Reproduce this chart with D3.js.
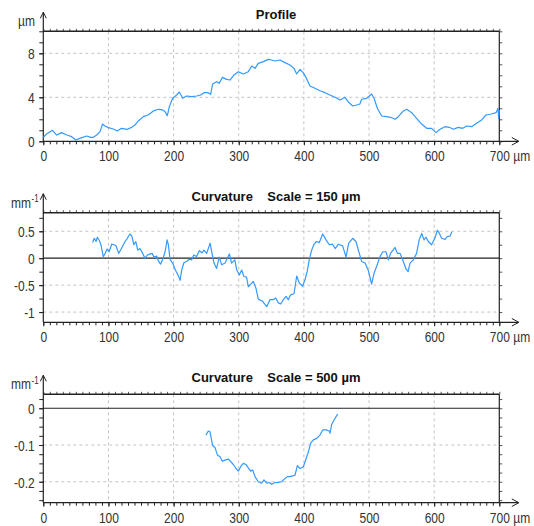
<!DOCTYPE html>
<html>
<head>
<meta charset="utf-8">
<script src="https://cdn.jsdelivr.net/npm/d3@7/dist/d3.min.js"></script>
<style>
  html, body { margin: 0; padding: 0; background: #fff; }
  svg { display: block; }
  .tick-label { font-family: "Liberation Sans", Arial, sans-serif; font-size: 15px; fill: #333; }
  .title { font-family: "Liberation Sans", Arial, sans-serif; font-size: 13px; font-weight: bold; fill: #111; white-space: pre; }
</style>
</head>
<body>
<div id="chart"></div>
<script>
// ---------- Data ----------
const xTickValues = [0, 100, 200, 300, 400, 500, 600, 700];

// Profile (µm)
const profileX = [0, 5, 14, 20.5, 28, 36, 43.5, 50, 56, 66.5, 72.7, 76.8, 82, 87, 91, 94.7, 100, 107.5, 113.6, 120,
  129, 135.6, 140.7, 145.8, 153.5, 161, 169, 176.5, 183, 186.8, 190.4, 193.5, 198.6, 204.7, 208.8, 214, 220, 227.7,
  235.4, 241.5, 246.7, 253, 256.9, 260, 266, 270, 275, 281.5, 286.6, 292.7, 299.4, 307, 314.7, 320, 325, 330, 337.8,
  345.5, 350.5, 355.7, 363.4, 371, 378.7, 384.8, 389, 394, 399, 404, 409.4, 417, 424.8, 432.4, 440, 447.8, 455.5,
  463, 468, 475, 481, 486, 488.7, 496.4, 504, 507.7, 512.8, 519.4, 527, 533, 540, 545, 551.7, 558, 565.5, 573,
  580.8, 588.5, 596, 603, 609, 616.7, 623, 629.5, 637, 643.8, 650, 657.6, 665, 673, 679.6, 688, 695, 698, 699, 700];
const profileY = [0.36, 0.66, 1.0, 0.57, 0.79, 0.57, 0.42, 0.12, 0.27, 0.48, 0.36, 0.36, 0.57, 0.88, 1.57, 1.39, 1.24, 1.12, 0.94, 1.18,
  1.09, 1.27, 1.48, 1.85, 2.24, 2.39, 2.76, 2.91, 2.85, 2.70, 2.33, 3.15, 3.91, 4.21, 4.48, 3.91, 4.12, 4.06,
  4.12, 4.21, 4.42, 4.42, 4.27, 5.21, 5.42, 5.27, 5.81, 5.63, 5.57, 6.03, 6.33, 6.12, 6.33, 6.85, 6.63, 7.09, 7.24,
  7.45, 7.39, 7.30, 7.39, 7.15, 6.94, 6.63, 6.12, 6.54, 6.24, 5.72, 5.03, 4.82, 4.60, 4.42, 4.21, 4.00, 3.75,
  4.00, 3.60, 3.21, 3.30, 3.39, 3.82, 3.91, 4.30, 3.91, 3.00, 2.30, 2.24, 2.18, 2.00, 2.24, 2.70, 2.91, 2.60, 2.09,
  1.57, 1.18, 1.18, 0.79, 1.09, 1.33, 1.27, 1.09, 1.27, 1.18, 1.39, 1.33, 1.63, 1.94, 2.39, 2.48, 2.60, 3.00, 2.09, 2.85];
const profileYTicks = [0, 4, 8];

// Curvature, scale 150 µm (mm-1)
const curv150X = [75.7, 78.3, 81, 83, 86, 88.5, 92, 95, 98, 101, 105, 108.5, 111.6, 115.7, 120, 125.4, 129, 133, 136,
  139, 142, 145, 148.4, 152.5, 156, 160, 164, 167, 170, 174, 177, 180, 183, 187, 190, 192, 194.5, 198.6, 202.7,
  206.8, 210, 212.4, 216, 220, 224, 227.7, 231, 235.4, 239.5, 243.6, 246.7, 250.8, 256, 259.5, 262, 266, 270,
  273.8, 279, 285.6, 289, 294, 297, 301, 304.5, 308, 312, 314.7, 318, 322.4, 326.5, 330, 336.7, 343, 348, 353,
  357, 360.8, 364.4, 368.5, 372.6, 376, 379.7, 384.8, 389, 393, 398, 401.7, 405, 408.4, 412, 415.6, 419.6, 423.7,
  428.9, 434, 439, 444, 448, 453, 459.6, 464.7, 468.8, 475, 480, 483.6, 488.7, 493.9, 499, 504, 507.7, 511.8,
  516.9, 521, 526, 529.7, 533, 540, 543.5, 547.6, 552.7, 556.8, 560, 563, 568, 573, 577, 580.9, 584.4, 587.5,
  591, 596, 601, 605, 608, 611.6, 616.7, 620, 624.4, 627];
const curv150Y = [0.29, 0.37, 0.31, 0.39, 0.33, 0.25, 0.03, 0.09, 0.17, 0.12, 0.26, 0.25, 0.23, 0.09, 0.18, 0.31, 0.37, 0.45, 0.41,
  0.25, 0.31, 0.15, 0.18, 0.09, 0.0, 0.06, 0.08, 0.09, 0.02, 0.04, -0.06, -0.11, -0.03, 0.12, 0.34, 0.25, -0.02, -0.09, -0.22,
  -0.31, -0.41, -0.22, -0.08, -0.06, -0.02, -0.03, 0.06, 0.03, 0.14, 0.10, 0.15, 0.09, 0.28, 0.06, -0.09, -0.19, 0.02,
  -0.12, -0.09, 0.08, -0.09, -0.03, -0.22, -0.31, -0.22, -0.34, -0.35, -0.53, -0.49, -0.43, -0.56, -0.76, -0.80, -0.90, -0.77, -0.77,
  -0.74, -0.83, -0.85, -0.77, -0.71, -0.77, -0.68, -0.66, -0.33, -0.46, -0.52, -0.40, -0.25, -0.02, 0.15, 0.26, 0.31, 0.29,
  0.45, 0.34, 0.25, 0.26, 0.18, 0.26, 0.23, 0.02, 0.28, 0.37, 0.31, 0.15, -0.06, -0.09, -0.23, -0.48, -0.28, -0.15,
  0.03, 0.12, 0.12, -0.03, 0.09, 0.20, 0.09, 0.09, -0.06, -0.20, -0.25, -0.09, -0.03, 0.09, 0.34, 0.46, 0.34, 0.39,
  0.31, 0.25, 0.37, 0.52, 0.46, 0.37, 0.35, 0.40, 0.41, 0.49];
const curv150YTicks = [-1, -0.5, 0, 0.5];

// Curvature, scale 500 µm (mm-1)
const curv500X = [249.8, 253.3, 255.9, 260, 263.6, 267.2, 271.3, 274.8, 279, 284, 287.6, 291.7, 295.8, 299.4, 303, 307,
  311, 314.8, 318.3, 321.4, 325, 330, 335.2, 338.8, 342.9, 347, 350.6, 355.7, 360.8, 366, 371, 374.6, 378.7, 382.8,
  386.4, 390, 394, 399.2, 403.3, 407, 410.5, 414.6, 419.7, 424.8, 428.9, 434, 439.1, 440.1, 442.7, 446.3, 450.4, 452];
const curv500Y = [-0.073, -0.062, -0.064, -0.102, -0.107, -0.127, -0.132, -0.144, -0.141, -0.138, -0.145, -0.153, -0.164, -0.171, -0.159, -0.150,
  -0.153, -0.162, -0.171, -0.168, -0.186, -0.200, -0.204, -0.195, -0.204, -0.202, -0.207, -0.202, -0.202, -0.200, -0.191, -0.186, -0.186, -0.184,
  -0.182, -0.156, -0.164, -0.159, -0.138, -0.118, -0.095, -0.086, -0.082, -0.073, -0.059, -0.059, -0.062, -0.068, -0.044, -0.032, -0.020, -0.016];
const curv500YTicks = [-0.2, -0.1, 0];

// ---------- Layout ----------
const W = 534, H = 526;
const plotLeft = 43.3, plotRight = 499.3;
const lineColor = "#3399ff";
const axisColor = "#222";
const gridColor = "#c4c4c4";
const squeeze = 0.8; // the reference labels use a narrow face
const xLabelOffset = 19.8;

const panels = [
  { title: "Profile", unit: "µm", sup: null, xs: profileX, ys: profileY, yTicks: profileYTicks,
    domain: [0, 10], top: 31.3, bottom: 141.3, minor: 1, zero: false },
  { title: "Curvature    Scale = 150 µm", unit: "mm", sup: "-1", xs: curv150X, ys: curv150Y, yTicks: curv150YTicks,
    domain: [-1.19, 0.845], top: 212.7, bottom: 322.3, minor: 0.25, zero: true },
  { title: "Curvature    Scale = 500 µm", unit: "mm", sup: "-1", xs: curv500X, ys: curv500Y, yTicks: curv500YTicks,
    domain: [-0.257, 0.038], top: 394.3, bottom: 502.7, minor: 0.025, zero: true }
];

const svg = d3.select("#chart").append("svg")
  .attr("width", W)
  .attr("height", H);

const x = d3.scaleLinear().domain([0, 700]).range([plotLeft, plotRight]);
const xMinor = d3.range(0, 71).map(k => k * 10);

function minorValues(domain, step) {
  const out = [];
  for (let k = Math.ceil(domain[0] / step - 1e-9); k <= Math.floor(domain[1] / step + 1e-9); k++) out.push(+(k * step).toFixed(4));
  return out;
}

// narrow text placed at (px, py)
function narrowText(sel, px, py, str, anchor, size) {
  const t = sel.append("text")
    .attr("class", "tick-label")
    .attr("transform", `translate(${px},${py}) scale(${squeeze},1)`)
    .attr("text-anchor", anchor || "start")
    .text(str);
  if (size) t.style("font-size", size + "px");
  return t;
}

panels.forEach(p => {
  const y = d3.scaleLinear().domain(p.domain).range([p.bottom, p.top]);
  const g = svg.append("g");
  const yMinor = minorValues(p.domain, p.minor);

  // grid (dashed)
  g.append("g").selectAll("line")
    .data(xTickValues.filter(v => v > 0 && v < 700))
    .join("line")
    .attr("x1", d => x(d)).attr("x2", d => x(d))
    .attr("y1", p.top).attr("y2", p.bottom)
    .attr("stroke", gridColor).attr("stroke-dasharray", "3,3");

  g.append("g").selectAll("line")
    .data(p.yTicks.filter(v => v !== 0))
    .join("line")
    .attr("x1", plotLeft).attr("x2", plotRight)
    .attr("y1", d => y(d)).attr("y2", d => y(d))
    .attr("stroke", gridColor).attr("stroke-dasharray", "3,3");

  // zero line
  if (p.zero) {
    g.append("line")
      .attr("x1", plotLeft).attr("x2", plotRight)
      .attr("y1", y(0)).attr("y2", y(0))
      .attr("stroke", axisColor).attr("stroke-width", 1.2);
  }

  // top frame with small ticks above
  const topAxis = g.append("g").attr("transform", `translate(0,${p.top})`)
    .call(d3.axisTop(x).tickValues(xMinor).tickSize(2.5).tickFormat(""));
  topAxis.select(".domain").remove();
  topAxis.selectAll("line").attr("stroke", "#555");
  g.append("line")
    .attr("x1", plotLeft).attr("x2", plotRight)
    .attr("y1", p.top).attr("y2", p.top)
    .attr("stroke", axisColor).attr("stroke-width", 1.4);

  // right frame with ticks outside
  const rightAxis = g.append("g").attr("transform", `translate(${plotRight},0)`)
    .call(d3.axisRight(y).tickValues(yMinor).tickSize(3).tickFormat(""));
  rightAxis.select(".domain").remove();
  rightAxis.selectAll("line").attr("stroke", "#555");
  g.append("line")
    .attr("x1", plotRight).attr("x2", plotRight)
    .attr("y1", p.top).attr("y2", p.bottom)
    .attr("stroke", axisColor).attr("stroke-width", 1.2);

  // bottom axis: minor ticks + major ticks
  const bMinor = g.append("g").attr("transform", `translate(0,${p.bottom})`)
    .call(d3.axisBottom(x).tickValues(xMinor).tickSize(3).tickFormat(""));
  bMinor.select(".domain").remove();
  bMinor.selectAll("line").attr("stroke", axisColor);

  const bMajor = g.append("g").attr("transform", `translate(0,${p.bottom})`)
    .call(d3.axisBottom(x).tickValues(xTickValues).tickSize(4).tickFormat(""));
  bMajor.select(".domain").remove();
  bMajor.selectAll("line").attr("stroke", axisColor);
  bMajor.selectAll(".tick").each(function (d) {
    narrowText(d3.select(this), 0, xLabelOffset, d3.format("d")(d), "middle");
  });

  narrowText(g, x(700) + 14, p.bottom + xLabelOffset, "µm", "start");

  // left axis: minor ticks + labels
  const lMinor = g.append("g").attr("transform", `translate(${plotLeft},0)`)
    .call(d3.axisLeft(y).tickValues(yMinor).tickSize(4).tickFormat(""));
  lMinor.select(".domain").remove();
  lMinor.selectAll("line").attr("stroke", axisColor);

  const lMajor = g.append("g").attr("transform", `translate(${plotLeft},0)`)
    .call(d3.axisLeft(y).tickValues(p.yTicks).tickSize(4).tickFormat(""));
  lMajor.select(".domain").remove();
  lMajor.selectAll("line").attr("stroke", axisColor);
  lMajor.selectAll(".tick").each(function (d) {
    narrowText(d3.select(this), -8.5, 0, String(d), "end").attr("dy", "0.36em");
  });

  // axis lines with arrows
  const arrowTop = p.top - 19;
  g.append("line")
    .attr("x1", plotLeft).attr("x2", plotLeft)
    .attr("y1", p.bottom).attr("y2", arrowTop)
    .attr("stroke", axisColor).attr("stroke-width", 1.2);
  g.append("path")
    .attr("d", `M${plotLeft - 3},${arrowTop + 6}L${plotLeft},${arrowTop}L${plotLeft + 3},${arrowTop + 6}`)
    .attr("fill", "none").attr("stroke", axisColor);

  const arrowRight = plotRight + 19.5;
  g.append("line")
    .attr("x1", plotLeft).attr("x2", arrowRight)
    .attr("y1", p.bottom).attr("y2", p.bottom)
    .attr("stroke", axisColor).attr("stroke-width", 1.2);
  g.append("path")
    .attr("d", `M${arrowRight - 7},${p.bottom - 3.8}L${arrowRight},${p.bottom}L${arrowRight - 7},${p.bottom + 3.8}`)
    .attr("fill", "none").attr("stroke", axisColor);

  // unit label on the y axis
  narrowText(g, p.sup ? 31 : 35, p.top - 5, p.unit, "end");
  if (p.sup) narrowText(g, 31.5, p.top - 10.5, p.sup, "start", 10);

  // title
  g.append("text")
    .attr("class", "title")
    .attr("text-anchor", "middle")
    .attr("x", 276)
    .attr("y", p.top - 12)
    .text(p.title);

  // data line
  const pts = p.xs.map((v, i) => [v, p.ys[i]]);
  g.append("path")
    .datum(pts)
    .attr("fill", "none")
    .attr("stroke", lineColor)
    .attr("stroke-width", 1.2)
    .attr("stroke-linejoin", "round")
    .attr("d", d3.line().x(d => x(d[0])).y(d => y(d[1])));
});
</script>
</body>
</html>
